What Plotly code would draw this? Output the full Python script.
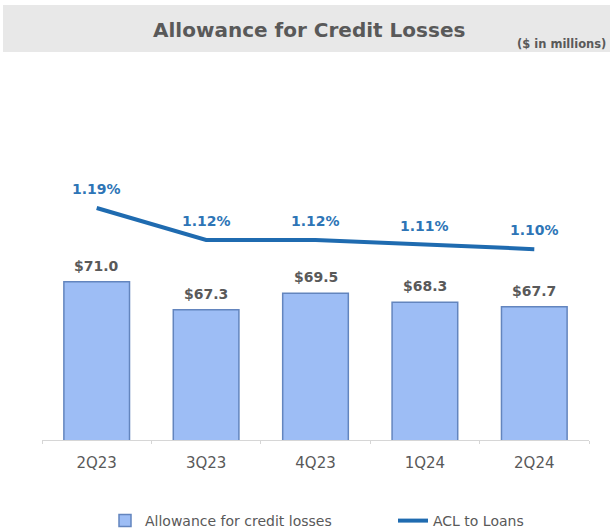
import plotly.graph_objects as go

# Quarterly allowance for credit losses ($M) and ACL-to-loans ratio (%)
quarters = ["2Q23", "3Q23", "4Q23", "1Q24", "2Q24"]
allowance = [71.0, 67.3, 69.5, 68.3, 67.7]
acl_to_loans = [1.19, 1.12, 1.12, 1.11, 1.10]
allowance_labels = [f"${v:.1f}" for v in allowance]
ratio_labels = [f"{v:.2f}%" for v in acl_to_loans]

W, H = 610, 531
GRAY = "#595959"
BAR_FILL = "#9DBDF5"
BAR_EDGE = "#6385BE"
LINE_BLUE = "#1F6BB0"
LABEL_BLUE = "#2E75B6"
FONT = "DejaVu Sans, Verdana, sans-serif"

fig = go.Figure()

fig.add_trace(go.Bar(
    x=quarters, y=allowance, name="Allowance for credit losses",
    marker=dict(color=BAR_FILL, line=dict(color=BAR_EDGE, width=1.5)),
    width=0.6, yaxis="y", hoverinfo="skip", legend="legend",
))
fig.add_trace(go.Scatter(
    x=quarters, y=acl_to_loans, name="ACL to Loans", mode="lines",
    line=dict(color=LINE_BLUE, width=4), yaxis="y2", hoverinfo="skip", legend="legend2",
))

annotations = []
for q, v, t in zip(quarters, allowance, allowance_labels):
    annotations.append(dict(x=q, y=v, xref="x", yref="y", text=t, showarrow=False,
                            yanchor="middle", yshift=16,
                            font=dict(family=FONT, size=14, color=GRAY, weight="bold")))
for q, v, t in zip(quarters, acl_to_loans, ratio_labels):
    annotations.append(dict(x=q, y=v, xref="x", yref="y2", text=t, showarrow=False,
                            yanchor="middle", yshift=19,
                            font=dict(family=FONT, size=14, color=LABEL_BLUE, weight="bold")))

# Header band text
annotations.append(dict(x=309 / W, y=1 - 30 / H, xref="paper", yref="paper",
                        xanchor="center", yanchor="middle",
                        text="Allowance for Credit Losses", showarrow=False,
                        font=dict(family=FONT, size=20, color=GRAY, weight="bold")))
annotations.append(dict(x=608 / W, y=1 - 44 / H, xref="paper", yref="paper",
                        xanchor="right", yanchor="middle",
                        text="($ in millions)", showarrow=False,
                        font=dict(family=FONT, size=11.5, color=GRAY, weight="bold")))

legend_common = dict(orientation="h", yanchor="middle", xanchor="left",
                     font=dict(family=FONT, size=14, color=GRAY),
                     bgcolor="rgba(0,0,0,0)")

fig.update_layout(
    width=W, height=H,
    margin=dict(l=0, r=0, t=0, b=0, autoexpand=False),
    paper_bgcolor="white", plot_bgcolor="white",
    font=dict(family=FONT, color=GRAY),
    showlegend=True,
    legend=dict(x=105 / W, y=1 - 521 / H, **legend_common),
    legend2=dict(x=393 / W, y=1 - 521 / H, **legend_common),
    xaxis=dict(domain=[42 / W, 589 / W], type="category", range=[-0.5, 4.5],
               showline=True, linecolor="#D6D6D6", linewidth=1,
               ticks="outside", tickson="boundaries", ticklen=3, tickcolor="#D6D6D6",
               ticklabelstandoff=9,
               showgrid=False, tickfont=dict(family=FONT, size=15, color=GRAY)),
    yaxis=dict(domain=[1 - 440 / H, 1 - 70 / H], range=[50.1, 50.1 + 370 / 7.568],
               visible=False, showgrid=False),
    yaxis2=dict(domain=[1 - 440 / H, 1 - 70 / H], overlaying="y", side="right",
                range=[1.19 - 232 / 457, 1.19 + 138 / 457], visible=False, showgrid=False),
    annotations=annotations,
    shapes=[dict(type="rect", xref="paper", yref="paper",
                 x0=3 / W, x1=1, y0=1 - 52 / H, y1=1 - 5 / H,
                 fillcolor="#E8E8E8", line=dict(width=0), layer="below")],
)

fig.write_html("out.html")
